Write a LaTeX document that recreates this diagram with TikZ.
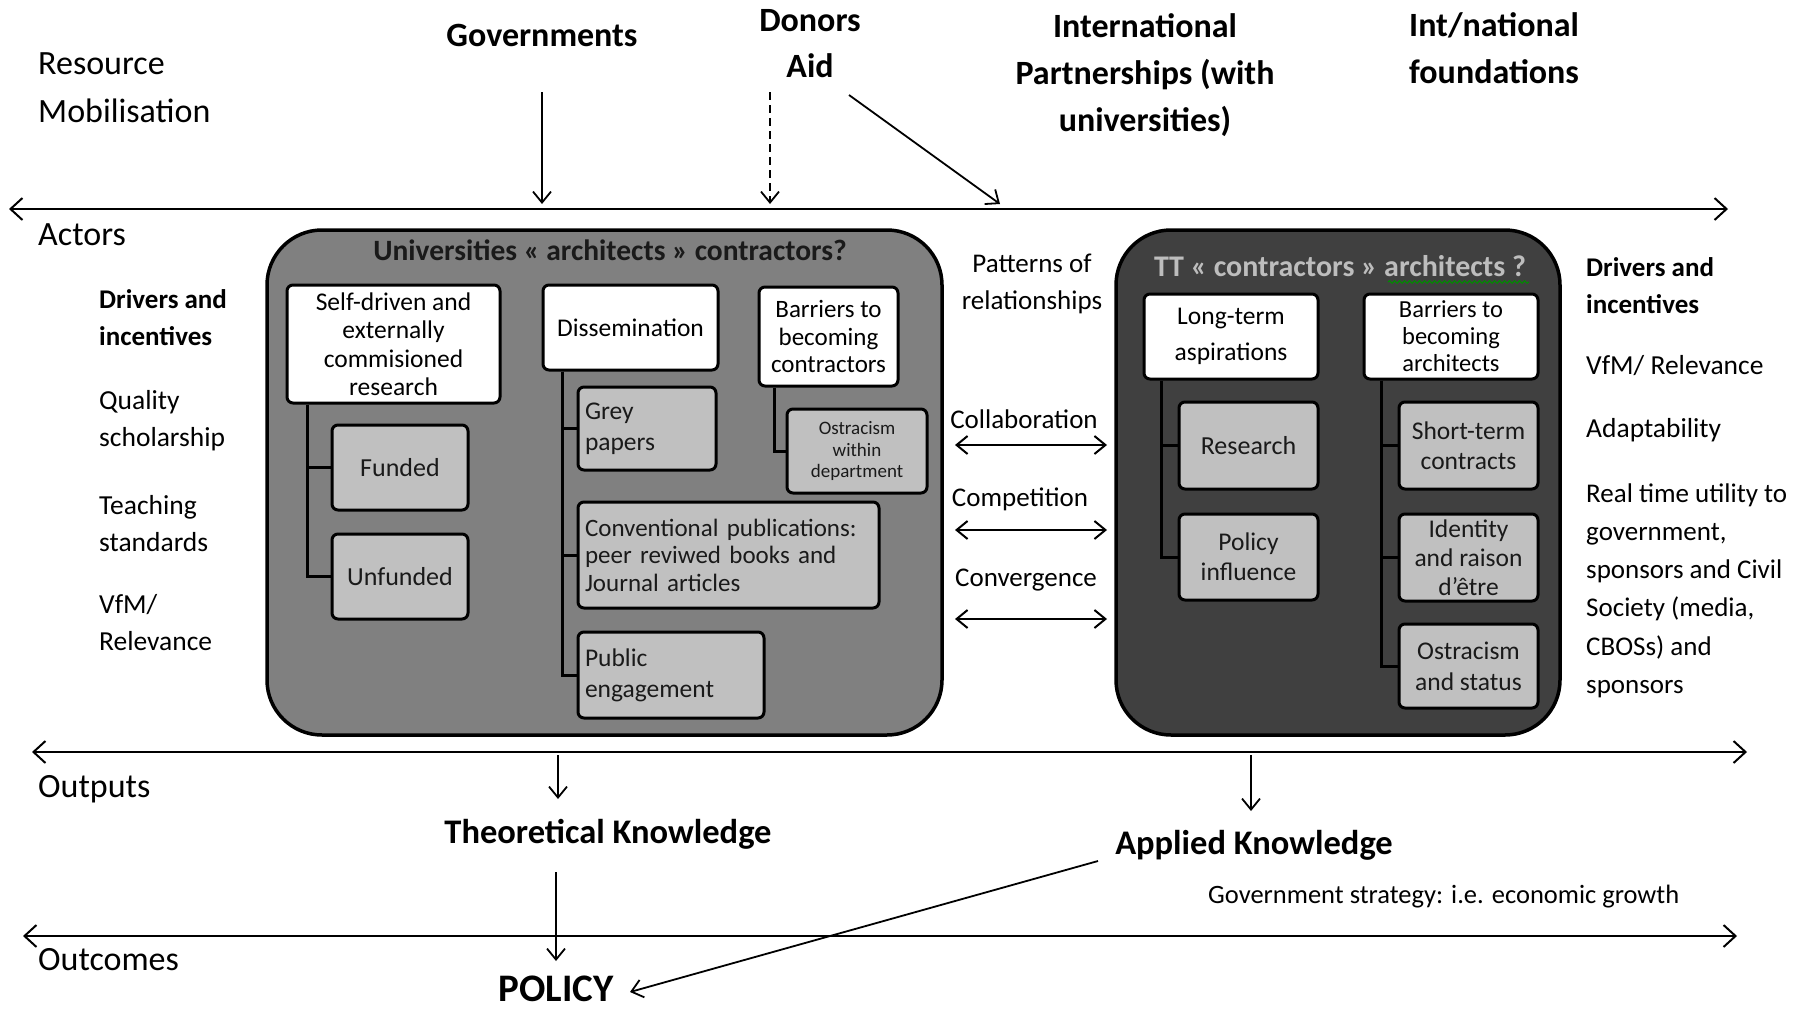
\documentclass[tikz,border=0pt]{standalone}
\usepackage{fontspec}
\setmainfont{Carlito}
\usetikzlibrary{arrows.meta,decorations.pathmorphing}

\definecolor{unifill}{HTML}{808080}
\definecolor{ttfill}{HTML}{404040}
\definecolor{subfill}{HTML}{C0C0C0}
\definecolor{ink}{HTML}{1A1A1A}
\definecolor{ttlabel}{HTML}{BDBDBD}

\newcommand{\fsz}[2]{\fontsize{#1}{#2}\selectfont}

\tikzset{
  x=1pt, y=-1pt,
  lbl/.style={inner sep=0pt, align=center, text=black},
  lblleft/.style={inner sep=0pt, align=left, anchor=west, text=black},
  axisline/.style={line width=2.6pt,
    {Straight Barb[length=12pt,width=22pt,line width=2pt]}-{Straight Barb[length=12pt,width=22pt,line width=2pt]}},
  feed/.style={line width=1.8pt, -{Straight Barb[length=11pt,width=18pt,line width=1.8pt]}},
  relarrow/.style={line width=2pt,
    {Straight Barb[length=11pt,width=18pt,line width=2pt]}-{Straight Barb[length=11pt,width=18pt,line width=2pt]}},
  groupbox/.style={draw=black, line width=3.5pt, rounded corners=55pt, inner sep=0pt},
  headbox/.style={draw=black, line width=3pt, rounded corners=6pt, fill=white,
    inner sep=0pt, align=center, text=black},
  subbox/.style={headbox, fill=subfill, text=ink},
  trunk/.style={line width=3pt},
}

\begin{document}
\begin{tikzpicture}
\fill[white] (0,0) rectangle (1812,1009);
\useasboundingbox (0,0) rectangle (1812,1009);

% ---------- resource mobilisation ----------
\node[lblleft, font=\fsz{34}{48}] (resmob) at (38,88) {Resource\\Mobilisation};
\node[lbl, font=\bfseries\fsz{34}{46}] (gov) at (542,35) {Governments};
\node[lbl, font=\bfseries\fsz{34}{46}] (donors) at (810,44) {Donors\\Aid};
\node[lbl, font=\bfseries\fsz{34}{47}] (intl) at (1145,75) {International\\Partnerships (with\\universities)};
\node[lblleft, font=\bfseries\fsz{34}{47}] (found) at (1409,48) {Int/national\\foundations};

\coordinate (govtop) at (542,92);   \coordinate (govend) at (542,204);
\coordinate (dontop) at (770,92);   \coordinate (donend) at (770,204);
\coordinate (aidtop) at (849,95);   \coordinate (aidend) at (1000,204);
\draw[feed] (govtop) -- (govend);
\draw[feed, dash pattern=on 8pt off 5pt] (dontop) -- (donend);
\draw[feed] (aidtop) -- (aidend);

% ---------- axes ----------
\coordinate (ax1l) at (9,209);   \coordinate (ax1r) at (1728,209);
\coordinate (ax2l) at (32,752);  \coordinate (ax2r) at (1747,752);
\coordinate (ax3l) at (23,936);  \coordinate (ax3r) at (1737,936);
\draw[axisline] (ax1l) -- (ax1r);
\draw[axisline] (ax2l) -- (ax2r);
\draw[axisline] (ax3l) -- (ax3r);

% ---------- actors ----------
\node[lblleft, font=\fsz{34}{40}] (actors) at (38,235) {Actors};
\node[lblleft, font=\bfseries\fsz{27}{37}] (drvL) at (99,317.5) {Drivers and\\incentives};
\node[lblleft, font=\fsz{27.5}{37}] (quality) at (99,420.5) {Quality\\scholarship};
\node[lblleft, font=\fsz{27.5}{37}] (teaching) at (99,523.5) {Teaching\\standards};
\node[lblleft, font=\fsz{27.5}{37}] (vfmL) at (99,622.5) {VfM/\\Relevance};

% universities group
\node[groupbox, fill=unifill, minimum width=675, minimum height=505] (uni) at (604.5,482.5) {};
\node[lbl, font=\bfseries\fsz{29.5}{34}, text=ink] (unititle) at (610,250) {Universities « architects » contractors?};

\node[headbox, minimum width=213, minimum height=118, font=\fsz{25.5}{28.5}] (sd) at (393.5,344)
  {Self-driven and\\externally\\commisioned\\research};
\node[subbox, minimum width=136, minimum height=85, font=\fsz{26}{30}] (funded) at (400,467.5) {Funded};
\node[subbox, minimum width=136, minimum height=85, font=\fsz{26}{30}] (unfunded) at (400,576.5) {Unfunded};

\node[headbox, minimum width=175, minimum height=85, font=\fsz{25.5}{30}] (diss) at (630.5,327.5) {Dissemination};
\node[subbox, text width=124, inner xsep=7pt, align=left, minimum height=83, font=\fsz{25.5}{31}] (grey) at (647,428.5)
  {Grey\\papers};
\node[subbox, text width=287, inner xsep=7pt, align=left, minimum height=106, font=\fsz{25}{27.5}] (conv) at (728.5,555)
  {Conventional publications:\\peer reviwed books and\\Journal articles};
\node[subbox, text width=172, inner xsep=7pt, align=left, minimum height=86, font=\fsz{25.5}{31}] (public) at (671,675)
  {Public\\engagement};

\node[headbox, minimum width=139, minimum height=99, font=\fsz{25}{27.5}] (barc) at (828.5,336.5)
  {Barriers to\\becoming\\contractors};
\node[subbox, minimum width=140, minimum height=84, font=\fsz{19}{21.5}] (ostd) at (857,451)
  {Ostracism\\within\\department};

\coordinate (trk1) at (307,0);
\coordinate (trk2) at (562,0);
\coordinate (trk3) at (774,0);
\draw[trunk] (sd.south -| trk1) |- (funded.west);
\draw[trunk] (sd.south -| trk1) |- (unfunded.west);
\draw[trunk] (diss.south -| trk2) |- (grey.west);
\draw[trunk] (diss.south -| trk2) |- (conv.west);
\draw[trunk] (diss.south -| trk2) |- (public.west);
\draw[trunk] (barc.south -| trk3) |- (ostd.west);

% relationships
\node[lbl, font=\fsz{27}{37}] (patterns) at (1032,283.5) {Patterns of\\relationships};
\node[lbl, font=\fsz{27}{32}] (collab) at (1024,419) {Collaboration};
\node[lbl, font=\fsz{27}{32}] (compet) at (1020,499) {Competition};
\node[lbl, font=\fsz{27}{32}] (converg) at (1026,580) {Convergence};
\coordinate (r1l) at (955,445);  \coordinate (r1r) at (1107,445);
\coordinate (r2l) at (955,530);  \coordinate (r2r) at (1107,530);
\coordinate (r3l) at (955,619);  \coordinate (r3r) at (1107,619);
\draw[relarrow] (r1l) -- (r1r);
\draw[relarrow] (r2l) -- (r2r);
\draw[relarrow] (r3l) -- (r3r);

% think-tank group
\node[groupbox, fill=ttfill, minimum width=444, minimum height=505] (tt) at (1338,482.5) {};
\node[lbl, font=\bfseries\fsz{30}{34}, text=ttlabel] (tttitle) at (1340,266) {TT « contractors » architects ?};
\coordinate (sqa) at (1388,282);  \coordinate (sqb) at (1529,282);
\draw[green!55!black, line width=1pt, decorate,
      decoration={snake, amplitude=1.3pt, segment length=5pt}] (sqa) -- (sqb);

\node[headbox, minimum width=174, minimum height=85, font=\fsz{25.5}{36}] (lta) at (1231,336.5)
  {Long-term\\aspirations};
\node[subbox, minimum width=139, minimum height=87, font=\fsz{26}{30}] (research) at (1248.5,445.5) {Research};
\node[subbox, minimum width=139, minimum height=86, font=\fsz{25.5}{30}] (polinf) at (1248.5,557) {Policy\\influence};

\node[headbox, minimum width=174, minimum height=85, font=\fsz{24.5}{27}] (bara) at (1451,336.5)
  {Barriers to\\becoming\\architects};
\node[subbox, minimum width=139, minimum height=87, font=\fsz{25.5}{30}] (short) at (1468.5,445.5)
  {Short-term\\contracts};
\node[subbox, minimum width=139, minimum height=87, font=\fsz{25.5}{29}] (identity) at (1468.5,557.5)
  {Identity\\and raison\\d'être};
\node[subbox, minimum width=139, minimum height=84, font=\fsz{25.5}{31}] (ostst) at (1468.5,666)
  {Ostracism\\and status};

\coordinate (trk4) at (1161,0);
\coordinate (trk5) at (1381,0);
\draw[trunk] (lta.south -| trk4) |- (research.west);
\draw[trunk] (lta.south -| trk4) |- (polinf.west);
\draw[trunk] (bara.south -| trk5) |- (short.west);
\draw[trunk] (bara.south -| trk5) |- (identity.west);
\draw[trunk] (bara.south -| trk5) |- (ostst.west);

% right-hand drivers
\node[lblleft, font=\bfseries\fsz{27}{37}] (drvR) at (1586,285.5) {Drivers and\\incentives};
\node[lblleft, font=\fsz{27.5}{32}] (vfmR) at (1586,366) {VfM/ Relevance};
\node[lblleft, font=\fsz{27.5}{32}] (adapt) at (1586,430) {Adaptability};
\node[lblleft, font=\fsz{27}{38.2}] (realtime) at (1586,590.5)
  {Real time utility to\\government,\\sponsors and Civil\\Society (media,\\CBOSs) and\\sponsors};

% ---------- outputs and outcomes ----------
\node[lblleft, font=\fsz{34}{40}] (outputs) at (38,789) {Outputs};
\node[lbl, font=\bfseries\fsz{34.5}{40}] (theo) at (608,834) {Theoretical Knowledge};
\node[lbl, font=\bfseries\fsz{34.5}{40}] (applied) at (1254,845) {Applied Knowledge};
\node[lblleft, font=\fsz{26.5}{30}] (govstrat) at (1208,897) {Government strategy: i.e. economic growth};
\node[lblleft, font=\fsz{34}{40}] (outcomes) at (38,960) {Outcomes};
\node[lbl, font=\bfseries\fsz{39}{46}] (policy) at (556,989) {POLICY};

\coordinate (thtop) at (558,755);  \coordinate (thend) at (558,799);
\coordinate (aptop) at (1251,755); \coordinate (apend) at (1251,811);
\coordinate (pltop) at (556,872);  \coordinate (plend) at (556,961);
\coordinate (dgtop) at (1098,861); \coordinate (dgend) at (630,992);
\draw[feed] (thtop) -- (thend);
\draw[feed] (aptop) -- (apend);
\draw[feed] (pltop) -- (plend);
\draw[feed] (dgtop) -- (dgend);
\end{tikzpicture}
\end{document}
